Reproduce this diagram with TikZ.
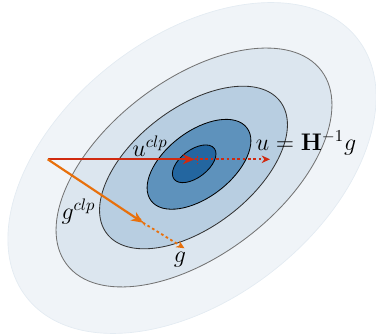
\documentclass[tikz,border=0pt]{standalone}
\usepackage{amsmath, amssymb}
\usepackage{tikz}
\usetikzlibrary{arrows.meta, positioning, calc}

\definecolor{niv0}{HTML}{F0F4F8}
\definecolor{niv1}{HTML}{DCE6EF}
\definecolor{niv2}{HTML}{B8CEE1}
\definecolor{niv3}{HTML}{5E92BC}
\definecolor{niv4}{HTML}{2366A0}
\definecolor{rouge}{HTML}{D02A10}
\definecolor{orange}{HTML}{E8700C}

\begin{document}
\begin{tikzpicture}[
  x=0.6pt, y=0.6pt,
  plein/.style={line width=1.3pt, -{Stealth[length=7pt, width=6pt]}},
  pointille/.style={line width=1.1pt, dash pattern=on 1.6pt off 1.6pt, -{Stealth[length=5pt, width=4.5pt]}},
  marque/.style={line width=0.5pt, dash pattern=on 1pt off 1pt},
  etiq/.style={font=\Large, inner sep=0pt}
]
  \useasboundingbox (0,0) rectangle (376,335);
  \clip (0,0) rectangle (376,335);
  % Courbes de niveau
  \draw[fill=niv0, draw=niv1!80, line width=0.4pt, rotate around={38:(192,167)}] (192,167) ellipse [x radius=210, y radius=131];
  \draw[fill=niv1, draw=black!55, line width=0.5pt, rotate around={37.3:(194,167.5)}] (194,167.5) ellipse [x radius=160, y radius=87.7];
  \draw[fill=niv2, draw=black!80, line width=0.5pt, rotate around={37.3:(193.5,167.5)}] (193.5,167.5) ellipse [x radius=109, y radius=59.6];
  \draw[fill=niv3, draw=black, line width=0.5pt, rotate around={37.3:(199,170.7)}] (199,170.7) ellipse [x radius=60.2, y radius=33];
  \draw[fill=niv4, draw=black, line width=0.5pt, rotate around={37.3:(194.2,171.2)}] (194.2,171.2) ellipse [x radius=25.3, y radius=13.8];
  % Points
  \coordinate (O) at (47.7,175.7);
  \coordinate (Uc) at (194.5,175.7);
  \coordinate (U) at (270,175.7);
  \coordinate (Gc) at (143,112.3);
  \coordinate (G) at (184.5,86.7);
  % Direction de Newton
  \draw[pointille, rouge] (Uc) -- (U);
  \draw[marque, rouge] ($(Uc)+(2.5,-5)$) -- ($(Uc)+(2.5,5)$);
  \draw[plein, rouge] (O) -- (Uc);
  % Gradient
  \draw[pointille, orange] (Gc) -- (G);
  \draw[marque, orange] ($(Gc)+(-2.8,4.2)$) -- ($(Gc)+(2.8,-4.2)$);
  \draw[plein, orange] (O) -- (Gc);
  % Etiquettes
  \node[etiq] (uclp) at (150,188.5) {$u^{clp}$};
  \node[etiq] (unewton) at (306,192) {$u = \mathbf{H}^{-1}g$};
  \node[etiq] (gclp) at (78.5,123.5) {$g^{clp}$};
  \node[etiq] (glab) at (180,75.5) {$g$};
\end{tikzpicture}
\end{document}
